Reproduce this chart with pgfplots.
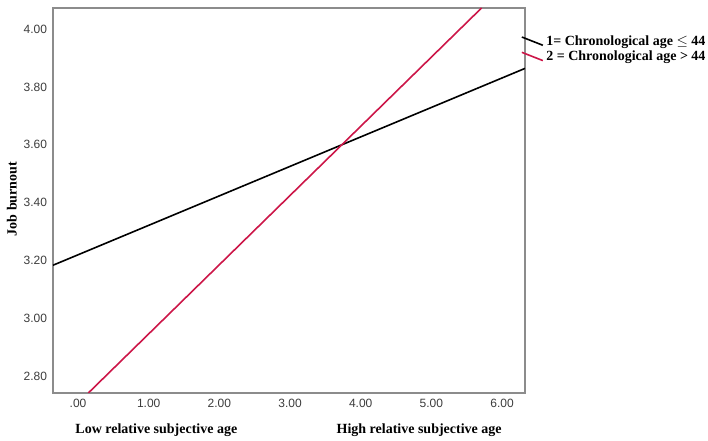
\documentclass[border=0pt]{standalone}
\usepackage{pgfplots}
\pgfplotsset{compat=1.18}
\usepackage{fontspec}
\setmainfont{Liberation Serif}
\newfontfamily\arial{Liberation Sans}
\definecolor{redline}{RGB}{204,22,72}
\definecolor{framegray}{RGB}{140,140,140}
\definecolor{ticktext}{RGB}{60,60,60}
\begin{document}
\begin{tikzpicture}
\begin{axis}[
  scale only axis,
  width=354pt, height=288.75pt,
  at={(0,0)}, anchor=south west,
  xmin=-0.354, xmax=6.325,
  ymin=2.741, ymax=4.073,
  axis line style={framegray, line width=1.2pt},
  tick style={draw=none},
  xtick={0,1,2,3,4,5,6},
  xticklabels={.00,1.00,2.00,3.00,4.00,5.00,6.00},
  ytick={2.8,3.0,3.2,3.4,3.6,3.8,4.0},
  yticklabels={2.80,3.00,3.20,3.40,3.60,3.80,4.00},
  tick label style={font=\arial\fontsize{9}{10}\selectfont, text=ticktext},
  xticklabel style={yshift=-1pt},
  yticklabel style={xshift=-1pt},
  ylabel={\textbf{Job burnout}},
  ylabel style={font=\fontsize{10.5}{12}\selectfont, at={(axis description cs:-0.087,0.504)}, anchor=center},
  clip mode=individual,
  legend style={at={(axis description cs:0.991,0.935)}, anchor=north west, draw=none, fill=none,
    inner sep=0pt, font=\fontsize{10.5}{12}\selectfont\bfseries, row sep=-1.3pt,
    legend cell align=left},
  legend image code/.code={\draw[#1] (0pt,3.6pt) -- (15.75pt,-2.6pt);},
]
\addplot[black, line width=1.2pt] coordinates {(-0.354,3.183) (6.325,3.864)};
\addlegendentry{1= Chronological age $\leq$ 44}
\addplot[redline, line width=1.2pt] coordinates {(0.146,2.741) (5.71,4.073)};
\addlegendentry{2 = Chronological age > 44}
\node[font=\fontsize{10.5}{12}\selectfont\bfseries, anchor=west, inner sep=0pt, yshift=-27.75pt] at (axis description cs:0.047,0) {Low relative subjective age};
\node[font=\fontsize{10.5}{12}\selectfont\bfseries, anchor=east, inner sep=0pt, yshift=-27.75pt] at (axis description cs:0.951,0) {High relative subjective age};
\end{axis}
\pgfresetboundingbox
\useasboundingbox (-39.75pt,-36pt) rectangle (491.25pt,294.75pt);
\end{tikzpicture}
\end{document}
